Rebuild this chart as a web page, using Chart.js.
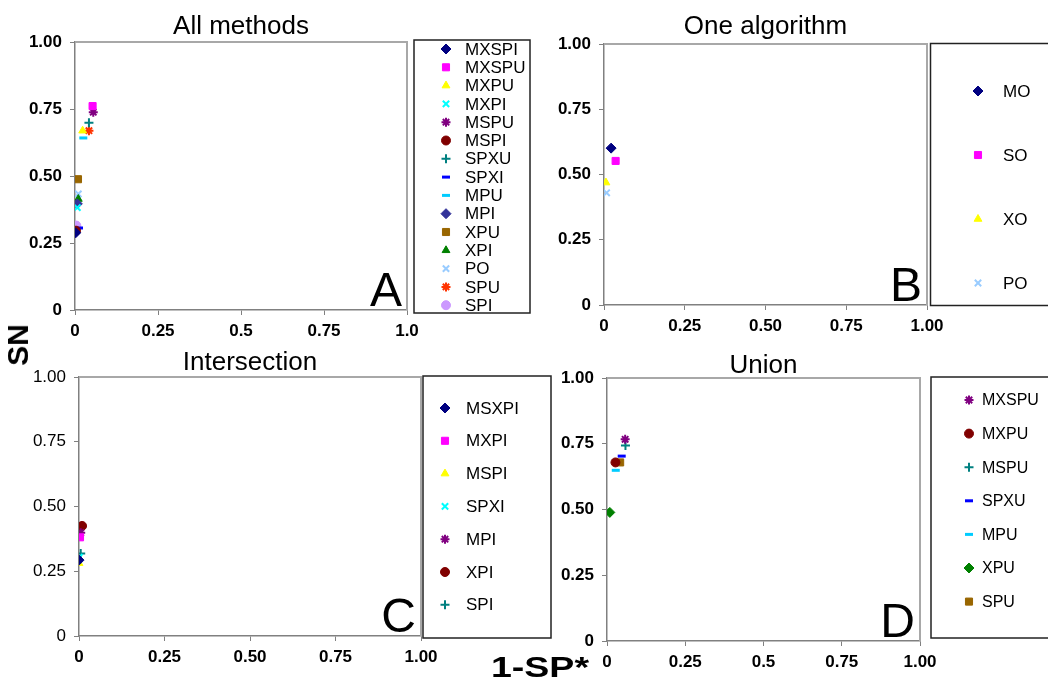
<!DOCTYPE html>
<html>
<head>
<meta charset="utf-8">
<script src="https://cdn.jsdelivr.net/npm/chart.js@4.4.1/dist/chart.umd.min.js"></script>
<style>
  body { margin: 0; background: #fff; }
  #page { position: relative; width: 1048px; height: 682px; overflow: hidden; font-family: "Liberation Sans", Arial, sans-serif; }
  #page canvas { position: absolute; left: 0; top: 0; }
  #sn { position: absolute; left: 18px; top: 345px; transform: translate(-50%, -50%) rotate(-90deg); font-weight: bold; font-size: 30px; }
  #fp { position: absolute; left: 540px; top: 667px; transform: translate(-50%, -50%) scaleX(1.25); font-weight: bold; font-size: 30px; white-space: nowrap; }
</style>
</head>
<body>
<div id="page">
  <canvas id="chartA" width="1048" height="682"></canvas>
  <canvas id="chartB" width="1048" height="682"></canvas>
  <canvas id="chartC" width="1048" height="682"></canvas>
  <canvas id="chartD" width="1048" height="682"></canvas>
  <div id="sn">SN</div>
  <div id="fp">1-SP*</div>
</div>
<script>
// panel A: all methods
const aNames = ['MXSPI', 'MXSPU', 'MXPU', 'MXPI', 'MSPU', 'MSPI', 'SPXU', 'SPXI', 'MPU', 'MPI', 'XPU', 'XPI', 'PO', 'SPU', 'SPI'];
const aFP = [0.002, 0.053, 0.023, 0.007, 0.055, 0.003, 0.042, 0.012, 0.025, 0.007, 0.009, 0.01, 0.01, 0.042, 0.004];
const aSN = [0.288, 0.761, 0.669, 0.382, 0.738, 0.296, 0.699, 0.306, 0.642, 0.396, 0.488, 0.414, 0.433, 0.669, 0.315];
const aColors = ['#000080', '#ff00ff', '#ffff00', '#00ffff', '#800080', '#800000', '#008080', '#0000ff', '#00ccff', '#333399', '#996600', '#008000', '#99ccff', '#ff3300', '#cc99ff'];
const aShapes = ['rectRot', 'rect', 'triangle', 'crossRot', 'star', 'circle', 'cross', 'line', 'line', 'rectRot', 'rect', 'triangle', 'crossRot', 'star', 'circle'];

// panel B: one algorithm
const bNames = ['MO', 'SO', 'XO', 'PO'];
const bFP = [0.022, 0.036, 0.006, 0.008];
const bSN = [0.601, 0.552, 0.469, 0.43];
const bColors = ['#000080', '#ff00ff', '#ffff00', '#99ccff'];
const bShapes = ['rectRot', 'rect', 'triangle', 'crossRot'];

// panel C: intersection
const cNames = ['MSXPI', 'MXPI', 'MSPI', 'SPXI', 'MPI', 'XPI', 'SPI'];
const cFP = [0.0, 0.003, 0.0, 0.001, 0.005, 0.009, 0.005];
const cSN = [0.293, 0.381, 0.281, 0.304, 0.399, 0.425, 0.319];
const cColors = ['#000080', '#ff00ff', '#ffff00', '#00ffff', '#800080', '#800000', '#008080'];
const cShapes = ['rectRot', 'rect', 'triangle', 'crossRot', 'star', 'circle', 'cross'];

// panel D: union
const dNames = ['MXSPU', 'MXPU', 'MSPU', 'SPXU', 'MPU', 'XPU', 'SPU'];
const dFP = [0.058, 0.027, 0.059, 0.047, 0.028, 0.009, 0.042];
const dSN = [0.767, 0.679, 0.743, 0.703, 0.649, 0.489, 0.679];
const dColors = ['#800080', '#800000', '#008080', '#0000ff', '#00ccff', '#008000', '#996600'];
const dShapes = ['star', 'circle', 'cross', 'line', 'line', 'rectRot', 'rect'];

// tick labels
const xTicksA = ['0', '0.25', '0.5', '0.75', '1.0'];
const xTicksB = ['0', '0.25', '0.50', '0.75', '1.00'];
const xTicksC = ['0', '0.25', '0.50', '0.75', '1.00'];
const xTicksD = ['0', '0.25', '0.5', '0.75', '1.00'];
const yTicks = ['0', '0.25', '0.50', '0.75', '1.00'];

const FONT = '"Liberation Sans", Arial, sans-serif';

function styleFor(shape) {
  if (shape === 'line') return { radius: 4, width: 3 };
  if (shape === 'crossRot' || shape === 'cross' || shape === 'star') return { radius: 4.5, width: 2 };
  if (shape === 'rect' || shape === 'rectRot') return { radius: 5, width: 1 };
  return { radius: 4.5, width: 1 };
}

const decor = {
  id: 'decor',
  beforeDatasetsDraw(chart, args, o) {
    const ctx = chart.ctx, a = chart.chartArea;
    ctx.save();
    ctx.strokeStyle = '#a8a8a8';
    ctx.lineWidth = 2;
    ctx.beginPath();
    ctx.moveTo(a.left, a.top);
    ctx.lineTo(a.right, a.top);
    ctx.lineTo(a.right, a.bottom);
    ctx.stroke();
    ctx.restore();
  },
  afterDraw(chart, args, o) {
    const ctx = chart.ctx, a = chart.chartArea;
    ctx.save();
    // title
    ctx.fillStyle = '#000';
    ctx.font = '26px ' + FONT;
    ctx.textAlign = 'center';
    ctx.textBaseline = 'middle';
    ctx.fillText(o.title, (a.left + a.right) / 2, o.titleY);
    // panel letter
    ctx.font = '48px ' + FONT;
    ctx.textAlign = 'right';
    ctx.textBaseline = 'alphabetic';
    ctx.fillText(o.letter, a.right - 5, a.bottom - 4);
    // legend box
    const [bx, by, bw, bh] = o.box;
    ctx.strokeStyle = '#222';
    ctx.lineWidth = 1.5;
    ctx.strokeRect(bx, by, bw, bh);
    ctx.beginPath();
    ctx.rect(bx, by, bw, bh);
    ctx.clip();
    ctx.font = o.fontSize + 'px ' + FONT;
    ctx.textAlign = 'left';
    ctx.textBaseline = 'middle';
    chart.data.datasets.forEach((ds, i) => {
      const y = o.firstY + i * o.stepY;
      ctx.fillStyle = ds.backgroundColor;
      ctx.strokeStyle = ds.borderColor;
      ctx.lineWidth = ds.borderWidth;
      Chart.helpers.drawPoint(ctx, { pointStyle: ds.pointStyle, radius: ds.pointRadius, rotation: 0, borderWidth: ds.borderWidth }, o.markX, y);
      ctx.fillStyle = '#000';
      ctx.fillText(ds.label, o.textX, y + 1);
    });
    ctx.restore();
  }
};

function makePanel(id, names, fp, sn, colors, shapes, xLabels, cfg) {
  const yW = 70, xH = 40;
  const datasets = names.map((name, i) => {
    const st = styleFor(shapes[i]);
    return {
      label: name,
      data: [{ x: fp[i], y: sn[i] }],
      pointStyle: shapes[i],
      backgroundColor: colors[i],
      borderColor: colors[i],
      borderWidth: st.width,
      pointRadius: st.radius
    };
  });
  const tickFont = (bold) => ({ family: FONT, size: 17, weight: bold ? 'bold' : 'normal' });
  return new Chart(document.getElementById(id), {
    type: 'scatter',
    data: { datasets: datasets },
    plugins: [decor],
    options: {
      responsive: false,
      animation: false,
      events: [],
      layout: {
        padding: {
          left: cfg.area[0] - yW,
          top: cfg.area[1],
          right: 1048 - cfg.area[2],
          bottom: 682 - cfg.area[3] - xH
        }
      },
      scales: {
        x: {
          type: 'linear', min: 0, max: 1,
          afterFit: (s) => { s.height = xH; },
          ticks: { stepSize: 0.25, padding: 6, color: '#000', font: tickFont(true), maxRotation: 0, autoSkip: false,
            callback: (v) => xLabels[Math.round(v * 4)] },
          grid: { drawOnChartArea: false, drawTicks: true, tickLength: 5, color: '#808080' },
          border: { color: '#808080', width: 1.5 }
        },
        y: {
          type: 'linear', min: 0, max: 1,
          afterFit: (s) => { s.width = yW; },
          ticks: { stepSize: 0.25, padding: 8, color: '#000', font: tickFont(cfg.yBold), autoSkip: false,
            callback: (v) => yTicks[Math.round(v * 4)] },
          grid: { drawOnChartArea: false, drawTicks: true, tickLength: 5, color: '#808080' },
          border: { color: '#808080', width: 1.5 }
        }
      },
      plugins: {
        legend: { display: false },
        tooltip: { enabled: false },
        decor: cfg.decor
      }
    }
  });
}

makePanel('chartA', aNames, aFP, aSN, aColors, aShapes, xTicksA, {
  area: [75, 42, 407, 310], yBold: true,
  decor: { title: 'All methods', titleY: 27, letter: 'A', box: [414, 40, 116, 273], markX: 446, textX: 465, firstY: 49, stepY: 18.3, fontSize: 17 }
});
makePanel('chartB', bNames, bFP, bSN, bColors, bShapes, xTicksB, {
  area: [604, 44, 927, 305], yBold: true,
  decor: { title: 'One algorithm', titleY: 27, letter: 'B', box: [930.5, 43.5, 130, 262], markX: 978, textX: 1003, firstY: 91, stepY: 64, fontSize: 17 }
});
makePanel('chartC', cNames, cFP, cSN, cColors, cShapes, xTicksC, {
  area: [79, 377, 421, 636], yBold: false,
  decor: { title: 'Intersection', titleY: 363, letter: 'C', box: [423, 376, 128, 262], markX: 445, textX: 466, firstY: 408, stepY: 32.8, fontSize: 17 }
});
makePanel('chartD', dNames, dFP, dSN, dColors, dShapes, xTicksD, {
  area: [607, 378, 920, 641], yBold: true,
  decor: { title: 'Union', titleY: 366, letter: 'D', box: [931, 377, 130, 261], markX: 969, textX: 982, firstY: 400, stepY: 33.6, fontSize: 16 }
});
</script>
</body>
</html>
